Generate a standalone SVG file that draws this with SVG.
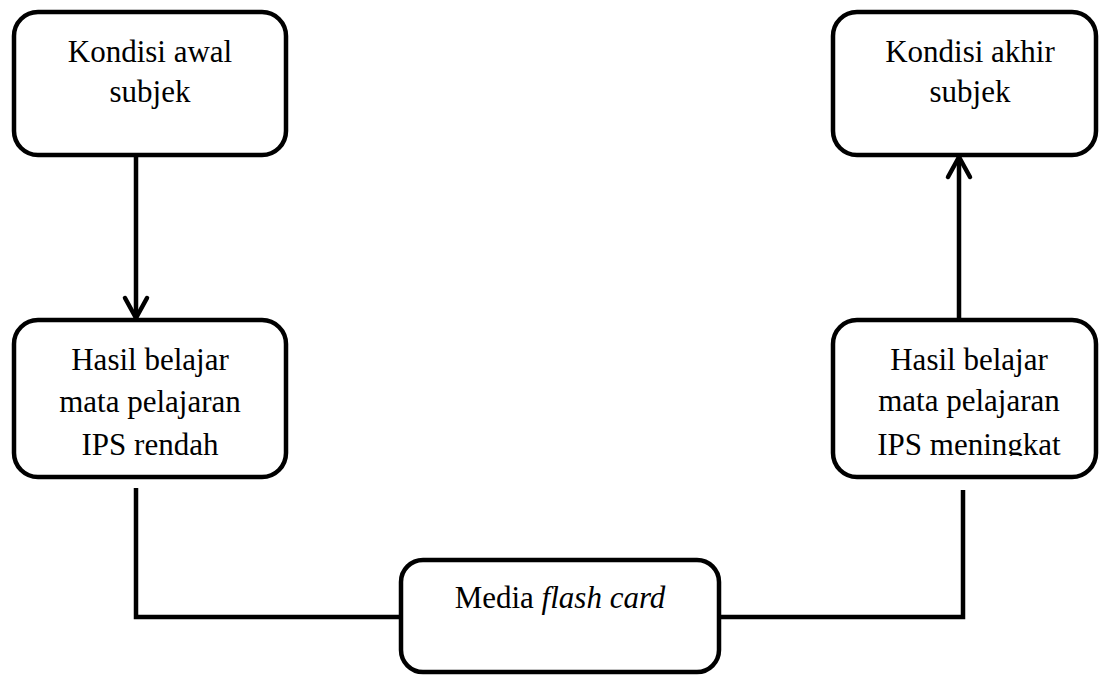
<svg xmlns="http://www.w3.org/2000/svg" width="1099" height="675" viewBox="0 0 1099 675">
<style>
.box{fill:#fff;stroke:#000;stroke-width:4.5}
.t{font-family:"Liberation Serif","Times New Roman",serif;font-size:31px;fill:#000;text-anchor:middle}
.c{fill:none;stroke:#000;stroke-width:4.5;stroke-linecap:butt}
.ah{fill:none;stroke:#000;stroke-width:4.5;stroke-linecap:round;stroke-linejoin:round}
</style>
<defs>
<clipPath id="clipR"><rect x="833" y="320" width="264" height="136"/></clipPath>
</defs>
<rect width="1099" height="675" fill="#fff"/>
<g id="connectors">
<path class="c" d="M136 155 V318"/>
<path class="ah" d="M125 298 L136 318 L147 298"/>
<path class="c" d="M959 320 V157"/>
<path class="ah" d="M948 177 L959 157 L970 177"/>
<path class="c" d="M136 488 V617 H401"/>
<path class="c" d="M719 617 H963 V490"/>
</g>
<g id="n-awal">
<rect class="box" x="14" y="12" width="272" height="143" rx="24"/>
<text class="t" x="150" y="62">Kondisi awal</text>
<text class="t" x="150" y="102">subjek</text>
</g>
<g id="n-akhir">
<rect class="box" x="833" y="12" width="263" height="143" rx="24"/>
<text class="t" x="970" y="62">Kondisi akhir</text>
<text class="t" x="970" y="102">subjek</text>
</g>
<g id="n-rendah">
<rect class="box" x="14" y="320" width="272" height="157" rx="24"/>
<text class="t" x="150" y="370">Hasil belajar</text>
<text class="t" x="150" y="412">mata pelajaran</text>
<text class="t" x="150" y="455">IPS rendah</text>
</g>
<g id="n-meningkat">
<rect class="box" x="833" y="320" width="263" height="157" rx="24"/>
<g clip-path="url(#clipR)">
<text class="t" x="969" y="370">Hasil belajar</text>
<text class="t" x="969" y="411">mata pelajaran</text>
<text class="t" x="969" y="455">IPS meningkat</text>
</g>
</g>
<g id="n-media">
<rect class="box" x="401" y="560" width="318" height="112" rx="22"/>
<text class="t" x="560" y="608">Media <tspan font-style="italic">flash card</tspan></text>
</g>
</svg>
